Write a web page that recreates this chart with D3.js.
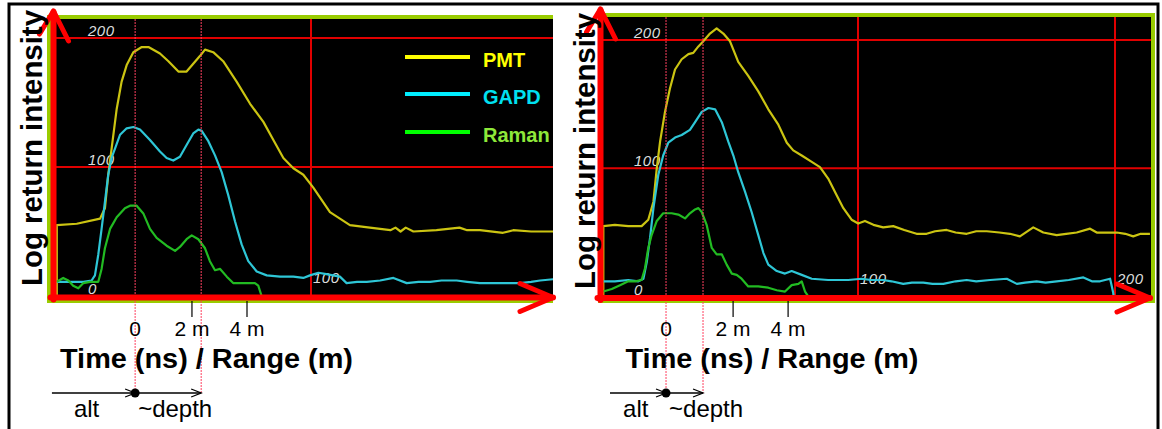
<!DOCTYPE html>
<html>
<head>
<meta charset="utf-8">
<script src="https://cdn.jsdelivr.net/npm/d3@7"></script>
<style>
  body { margin: 0; background: #fff; }
  svg { display: block; font-family: "Liberation Sans", Arial, sans-serif; }
</style>
</head>
<body>
<div id="graf"></div>
<script>
// curves, [time, intensity]
const pmtLeft = [[0.7,0],[0.7,55],[8.5,56],[17.6,60],[19.5,68],[20.8,94],[22.1,114],[24.1,145],[26,166],[28,179],[30.6,189],[33.9,193],[36.5,193],[41,188],[44.3,182],[48.2,174],[51.4,174],[54,180],[56.6,186],[58.6,191],[61.8,189],[65.7,182],[71,166],[76.2,149],[81.4,135],[85.3,121],[89.2,107],[93.1,99],[97,94],[100.9,84],[107.4,65],[115.2,55],[123,53],[131,51],[133,53],[135,50],[137,53],[140,50],[149,51],[158,53],[161,51],[166,51],[175,49],[179,51],[186,50],[194.6,50]]
const gapdLeft = [[0.7,11],[5.9,11],[11.1,11],[14.3,12],[15.6,16],[16.9,32],[18.2,52],[19.5,73],[20.8,94],[22.1,107],[23.4,114],[25.4,125],[28,130],[30.6,131],[33.2,129],[37.1,121],[41,112],[43.6,107],[46.2,105],[48.8,108],[51.4,117],[54,126],[56,129],[57.3,128],[59.9,120],[62.5,109],[65.1,96],[67.7,78],[70.3,58],[72.9,40],[75.5,27],[78.8,19],[82.7,16],[87.9,15],[93.1,15],[97,14],[99.6,16],[102.9,18],[106,17],[111.3,15],[113.9,10],[118,11],[121.8,11],[127,12],[132.2,14],[137.4,10],[142,11],[146.5,11],[151,12],[156.9,12],[161,11],[166,10],[172,10],[181.6,10],[186,11],[189.5,12],[194.6,13]]
const ramanLeft = [[0.7,11],[3.2,14],[5.2,12],[7.1,8],[9.1,6],[11.1,10],[13.7,11],[16.9,11],[18.2,21],[19.5,37],[21.5,52],[24.1,61],[27.3,68],[29.3,70],[31.9,70],[34.5,64],[37.1,52],[39.7,45],[43.6,39],[46.9,35],[48.8,38],[51.4,44],[53.4,47],[56,44],[58.6,37],[60.5,27],[62.5,20],[64.5,21],[67.1,15],[69.6,10],[73.6,10],[78.1,10],[79.4,8],[80.7,0]]

const pmtRight = [[0.9,0],[0.9,55],[5.4,56],[10.6,55],[15.8,55],[18.4,60],[20.4,74],[21.7,100],[23,121],[24.9,144],[26.8,162],[28.8,177],[31.4,185],[34,189],[35.9,190],[37.9,195],[39.8,199],[42.4,205],[45,209],[47.6,205],[50.2,199],[53.4,183],[57.3,172],[61.2,160],[65.1,146],[69,134],[72.3,120],[74.8,114],[78.1,110],[82,105],[85.2,101],[88.4,92],[91.7,79],[94.3,69],[97.5,60],[100.1,57],[102.7,59],[106,56],[109.8,54],[113.7,55],[118,52],[122.8,49],[126.7,49],[130,51],[134.5,52],[138,50],[142.3,49],[146,51],[150.1,51],[155,50],[159.1,49],[163,47],[168.2,54],[172.1,50],[177.3,48],[181,49],[185.1,50],[190.3,53],[192.9,50],[197,50],[200.7,50],[204,49],[207.1,47],[210,49],[213.6,49]]
const gapdRight = [[0.9,12],[5.4,12],[10.6,13],[14.5,12],[16.5,14],[17.8,27],[19.1,46],[20.4,69],[22.3,95],[24.2,110],[26.2,120],[28.8,124],[31.4,126],[34.6,130],[36.6,136],[39.2,144],[41.8,147],[44.4,146],[47,136],[49.5,121],[51.5,110],[53.4,97],[56,82],[58.6,66],[61.2,48],[63.2,34],[65.1,25],[68.4,20],[71.6,18],[74.2,20],[78.1,17],[82,14],[88.4,13],[96.2,13],[101.4,14],[105,13],[109.8,13],[113,12],[117.6,10],[121,11],[125.4,11],[129,10],[133.2,10],[138,12],[142.3,13],[146,12],[151.4,13],[157.9,14],[161.8,10],[165,11],[169.5,12],[173,11],[177.3,12],[182,13],[187.7,15],[191,12],[194.2,12],[198.1,14],[199.3,3],[199.5,0]]
const ramanRight = [[0.9,4],[4.2,6],[7.4,9],[10.6,12],[13.2,12],[15.8,13],[17.1,22],[18.4,38],[19.7,48],[21.7,59],[24.2,65],[27.5,65],[30.1,64],[32.7,61],[34.6,65],[36.6,68],[37.9,69],[39.2,66],[41.1,56],[43.1,38],[45,33],[47,33],[48.9,25],[50.9,18],[52.8,17],[54.7,14],[57.3,8],[61.2,8],[65.1,7],[68.4,5],[71.6,4],[74.2,9],[76.8,10],[78.1,12],[79.4,4],[80.7,0]]

const seriesNames = ["PMT", "GAPD", "Raman"]
const gridValues = [100, 200]
const yTickLabels = [0, 100, 200]
const xTickLabels = [100, 200]

// range annotation under each panel (time units)
const rangeLeft = [{ label: "0", t: 31.3, tick: false }, { label: "2 m", t: 53.5, tick: true }, { label: "4 m", t: 75, tick: true }]
const rangeRight = [{ label: "0", t: 25.3, tick: false }, { label: "2 m", t: 51.4, tick: true }, { label: "4 m", t: 72.8, tick: true }]
const altLeft = { start: -1.2, label: 7.4, surface: 31.3, depth: 57.1 }
const altRight = { start: 3.5, label: 8.6, surface: 25.3, depth: 39.7 }

const curveColors = ["#cbc412", "#2ec6d6", "#22bb22"]
const legendLine = ["#ffff00", "#00eeff", "#00ff00"]
const legendText = ["#ffff00", "#00e0f0", "#8ee83a"]
const red = "#ff0000"
const green = "#99cc00"

const svg = d3.select("#graf")
  .append("svg")
  .attr("width", 1162)
  .attr("height", 429)

svg.append("rect")
  .attr("x", 9).attr("y", 4)
  .attr("width", 1149).attr("height", 440)
  .attr("fill", "#fff")
  .attr("stroke", "#000")
  .attr("stroke-width", 3)

const panels = [
  { id: "L", outer: [47, 15, 553, 303], inner: [51, 19, 553, 299], rightBorder: false,
    xr: [55, 567], yr: [296, 38], axisX: 53.5, axisY: 297.5, arrowEnd: 553,
    series: [pmtLeft, gapdLeft, ramanLeft], range: rangeLeft, alt: altLeft,
    legend: true, titleX: 206.5, yTitleX: 42, yTitleY: 148 },
  { id: "R", outer: [598, 13, 1155, 303], inner: [602, 17, 1151, 299], rightBorder: true,
    xr: [601, 1115], yr: [296.7, 40], axisX: 600.5, axisY: 298, arrowEnd: 1150,
    series: [pmtRight, gapdRight, ramanRight], range: rangeRight, alt: altRight,
    legend: false, titleX: 772, yTitleX: 595, yTitleY: 151 }
]

panels.forEach((p) => drawPanel(p))

function drawPanel(p) {
  const x = d3.scaleLinear().domain([0, 200]).range(p.xr)
  const y = d3.scaleLinear().domain([0, 200]).range(p.yr)
  const [ox0, oy0, ox1, oy1] = p.outer
  const [ix0, iy0, ix1, iy1] = p.inner

  svg.append("rect")
    .attr("x", ox0).attr("y", oy0)
    .attr("width", ox1 - ox0).attr("height", oy1 - oy0)
    .attr("fill", green)
  svg.append("rect")
    .attr("x", ix0).attr("y", iy0)
    .attr("width", (p.rightBorder ? ix1 : ox1) - ix0).attr("height", iy1 - iy0)
    .attr("fill", "#000")

  svg.append("clipPath").attr("id", "clip" + p.id)
    .append("rect")
    .attr("x", ix0).attr("y", iy0)
    .attr("width", (p.rightBorder ? ix1 : ox1) - ix0).attr("height", iy1 - iy0)

  const g = svg.append("g").attr("clip-path", `url(#clip${p.id})`)

  // grid
  g.selectAll(".hgrid").data(gridValues).enter().append("line")
    .attr("x1", ix0).attr("x2", ox1)
    .attr("y1", (d) => y(d)).attr("y2", (d) => y(d))
    .attr("stroke", "#e00000").attr("stroke-width", 2)
  g.selectAll(".vgrid").data(xTickLabels).enter().append("line")
    .attr("x1", (d) => x(d)).attr("x2", (d) => x(d))
    .attr("y1", iy0).attr("y2", iy1)
    .attr("stroke", "#e00000").attr("stroke-width", 2)

  // tick labels inside plot
  g.selectAll(".ylab").data(yTickLabels).enter().append("text")
    .attr("x", x(0) + 33)
    .attr("y", (d) => y(d) - 2)
    .attr("fill", "#dcdcdc")
    .attr("font-size", 15)
    .attr("font-style", "italic")
    .attr("letter-spacing", 0.5)
    .text((d) => d)
  g.selectAll(".xlab").data(xTickLabels).enter().append("text")
    .attr("x", (d) => x(d) + 2)
    .attr("y", y(0) - 13)
    .attr("fill", "#dcdcdc")
    .attr("font-size", 15)
    .attr("font-style", "italic")
    .attr("letter-spacing", 0.5)
    .text((d) => d)

  // curves
  const line = d3.line().x((d) => x(d[0])).y((d) => y(d[1]))
  g.selectAll(".curve").data(p.series).enter().append("path")
    .attr("d", line)
    .attr("fill", "none")
    .attr("stroke", (d, i) => curveColors[i])
    .attr("stroke-width", 2.2)
    .attr("stroke-linejoin", "round")

  // legend
  if (p.legend) {
    const ly = [57, 94, 132]
    const lg = svg.append("g")
    lg.selectAll("line").data(seriesNames).enter().append("line")
      .attr("x1", 405).attr("x2", 470)
      .attr("y1", (d, i) => ly[i]).attr("y2", (d, i) => ly[i])
      .attr("stroke", (d, i) => legendLine[i])
      .attr("stroke-width", 4)
    lg.selectAll("text").data(seriesNames).enter().append("text")
      .attr("x", 483)
      .attr("y", (d, i) => ly[i] + 10)
      .attr("font-size", 20)
      .attr("font-weight", "bold")
      .attr("fill", (d, i) => legendText[i])
      .text((d) => d)
  }

  // dotted markers for surface and depth
  svg.selectAll(".mark" + p.id).data([p.alt.surface, p.alt.depth]).enter().append("line")
    .attr("x1", (d) => x(d)).attr("x2", (d) => x(d))
    .attr("y1", iy0).attr("y2", 393)
    .attr("stroke", "#ff4060")
    .attr("stroke-width", 1)
    .attr("stroke-dasharray", "2,1")

  // red axes with arrows
  const ax = svg.append("g")
    .attr("stroke", red).attr("fill", "none")
    .attr("stroke-linecap", "round").attr("stroke-linejoin", "round")
  ax.append("line")
    .attr("x1", p.axisX).attr("x2", p.axisX)
    .attr("y1", oy0 - 3).attr("y2", p.axisY + 2)
    .attr("stroke-width", 6)
  ax.append("path")
    .attr("d", `M${p.axisX - 14},${oy0 + 19} L${p.axisX},${oy0 - 4} L${p.axisX + 15},${oy0 + 26}`)
    .attr("stroke-width", 5)
  ax.append("line")
    .attr("x1", p.axisX - 3).attr("x2", p.arrowEnd)
    .attr("y1", p.axisY).attr("y2", p.axisY)
    .attr("stroke-width", 6)
  ax.append("path")
    .attr("d", `M${p.arrowEnd - 33},${p.axisY - 14} L${p.arrowEnd},${p.axisY} L${p.arrowEnd - 33},${p.axisY + 14}`)
    .attr("stroke-width", 5)

  // range ticks below
  const below = svg.append("g")
  below.selectAll("line").data(p.range.filter((d) => d.tick)).enter().append("line")
    .attr("x1", (d) => x(d.t)).attr("x2", (d) => x(d.t))
    .attr("y1", 301).attr("y2", 317)
    .attr("stroke", "#000").attr("stroke-width", 1.2)
  below.selectAll("text").data(p.range).enter().append("text")
    .attr("x", (d) => x(d.t))
    .attr("y", 336)
    .attr("text-anchor", "middle")
    .attr("font-size", 21)
    .attr("fill", "#000")
    .text((d) => d.label)

  svg.append("text")
    .attr("x", p.titleX).attr("y", 368)
    .attr("text-anchor", "middle")
    .attr("font-size", 27)
    .attr("font-weight", "bold")
    .attr("textLength", 293)
    .attr("lengthAdjust", "spacingAndGlyphs")
    .text("Time (ns) / Range (m)")

  svg.append("text")
    .attr("transform", `translate(${p.yTitleX}, ${p.yTitleY}) rotate(-90)`)
    .attr("text-anchor", "middle")
    .attr("font-size", 29)
    .attr("font-weight", "bold")
    .attr("textLength", 276)
    .attr("lengthAdjust", "spacingAndGlyphs")
    .text("Log return intensity")

  // alt / depth arrows
  const a = p.alt
  const ar = svg.append("g").attr("stroke", "#000").attr("fill", "none").attr("stroke-width", 1.3)
  ar.append("line").attr("x1", x(a.start)).attr("x2", x(a.depth)).attr("y1", 393).attr("y2", 393)
  ar.selectAll("path").data([a.surface, a.depth]).enter().append("path")
    .attr("d", (d) => `M${x(d) - 10},${389} L${x(d)},393 L${x(d) - 10},397`)
  svg.append("circle").attr("cx", x(a.surface)).attr("cy", 393).attr("r", 4.5).attr("fill", "#000")
  svg.append("text")
    .attr("x", x(a.label)).attr("y", 417)
    .attr("font-size", 24)
    .text("alt")
  svg.append("text")
    .attr("x", x(a.surface) + 3).attr("y", 417)
    .attr("font-size", 24)
    .text("~depth")
}
</script>
</body>
</html>
